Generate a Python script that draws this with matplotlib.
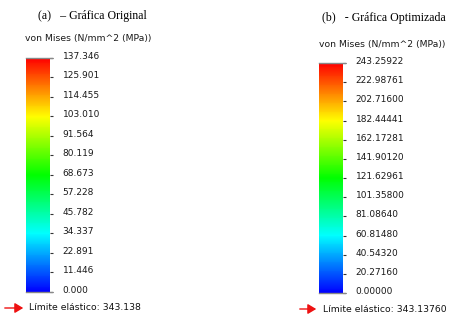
import matplotlib
matplotlib.use("Agg")
import matplotlib.pyplot as plt
import numpy as np
from matplotlib.colors import LinearSegmentedColormap, Normalize
from matplotlib.cm import ScalarMappable
from matplotlib.transforms import ScaledTranslation

# ---- data ----
left_title = "(a)   \u2013 Gráfica Original"
right_title = "(b)   - Gráfica Optimizada"
quantity_label = "von Mises (N/mm^2 (MPa))"

left_ticks = [0.000, 11.446, 22.891, 34.337, 45.782, 57.228, 68.673,
              80.119, 91.564, 103.010, 114.455, 125.901, 137.346]
left_ticklabels = ["0.000", "11.446", "22.891", "34.337", "45.782", "57.228",
                   "68.673", "80.119", "91.564", "103.010", "114.455",
                   "125.901", "137.346"]
left_yield = "Límite elástico: 343.138"

right_ticks = [0.00000, 20.27160, 40.54320, 60.81480, 81.08640, 101.35800,
               121.62961, 141.90120, 162.17281, 182.44441, 202.71600,
               222.98761, 243.25922]
right_ticklabels = ["0.00000", "20.27160", "40.54320", "60.81480", "81.08640",
                    "101.35800", "121.62961", "141.90120", "162.17281",
                    "182.44441", "202.71600", "222.98761", "243.25922"]
right_yield = "Límite elástico: 343.13760"

cmap = LinearSegmentedColormap.from_list(
    "sw", [(0.0, "#0000ff"), (0.25, "#00ffff"), (0.5, "#00ff00"),
           (0.75, "#ffff00"), (1.0, "#ff0000")])

W, H = 452, 316
fig = plt.figure(figsize=(W / 100, H / 100), dpi=100)
fig.patch.set_facecolor("white")

def px(x, y):
    return x / W, 1 - y / H

def make_bar(x0, x1, ytop, ybot, ticks, labels, title, tx, ty, vx, vy,
             yld, lx, ly, ax0, ax1):
    ax = fig.add_axes([x0 / W, 1 - ybot / H, (x1 - x0) / W, (ybot - ytop) / H])
    sm = ScalarMappable(norm=Normalize(ticks[0], ticks[-1]), cmap=cmap)
    cb = fig.colorbar(sm, cax=ax, orientation="vertical")
    cb.outline.set_visible(False)
    cb.set_ticks(ticks)
    cb.set_ticklabels(labels)
    ax.tick_params(axis="y", length=2.5, width=0.8, color="#333333",
                   pad=6.5, labelsize=6.5, labelcolor="#1a1a1a")
    off = ScaledTranslation(0, 2.5 / 100, fig.dpi_scale_trans)
    for lab in ax.get_yticklabels():
        lab.set_transform(lab.get_transform() + off)
        lab.set_family("DejaVu Sans")
    # top/bottom gray edges
    for yy in (ytop, ybot):
        fig.add_artist(plt.Line2D([x0 / W, (x1 + 2) / W], [1 - yy / H, 1 - yy / H],
                                  color="#888888", lw=1.0))
    fig.text(*px(tx, ty), title, family="Liberation Serif", fontsize=8.6,
             ha="left", va="center", color="black")
    fig.text(*px(vx, vy), quantity_label, family="DejaVu Sans", fontsize=6.7,
             ha="left", va="center", color="#1a1a1a")
    fig.text(*px(lx, ly), yld, family="DejaVu Sans", fontsize=6.7,
             ha="left", va="center", color="#111111")
    fig.add_artist(matplotlib.patches.FancyArrowPatch(
        px(ax0, ly), px(ax1, ly), transform=fig.transFigure,
        arrowstyle="-|>,head_length=5,head_width=3", color="#ee1111",
        lw=1.0, mutation_scale=1))

make_bar(26, 50, 58, 292, left_ticks, left_ticklabels, left_title,
         38, 16, 25, 38, left_yield, 29, 308, 2, 26)
make_bar(319, 343, 63, 293, right_ticks, right_ticklabels, right_title,
         322, 18, 319, 44, right_yield, 323, 309, 297, 319)

fig.savefig("out.png", dpi=100, facecolor="white")
